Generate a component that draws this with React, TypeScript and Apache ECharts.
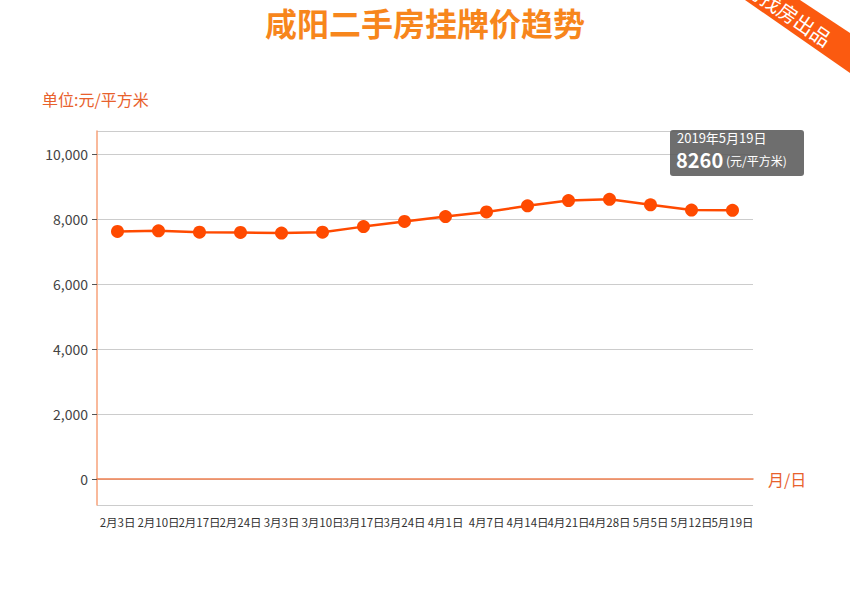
import React, { useEffect, useRef } from "react";
import * as echarts from "echarts";

const dates = [
  "2月3日", "2月10日", "2月17日", "2月24日", "3月3日", "3月10日", "3月17日", "3月24日",
  "4月1日", "4月7日", "4月14日", "4月21日", "4月28日", "5月5日", "5月12日", "5月19日",
];
const prices = [7610, 7630, 7590, 7580, 7560, 7590, 7760, 7920, 8070, 8210, 8400, 8560, 8600, 8430, 8270, 8260];
const tipDate = "2019年5月19日";
const tipValue = "8260";
const unitText = "单位:元/平方米";
const titleText = "咸阳二手房挂牌价趋势";

const FONT = '"Noto Sans CJK SC", "Noto Sans", sans-serif';

export default function App() {
  const ref = useRef<HTMLDivElement>(null);
  useEffect(() => {
    if (!ref.current) return;
    const chart = echarts.init(ref.current, undefined, { renderer: "svg" });
    chart.setOption({
      animation: false,
      textStyle: { fontFamily: FONT },
      title: {
        text: titleText,
        left: "center",
        top: 1,
        textStyle: { color: "#f7861c", fontSize: 32, fontWeight: "bold", fontFamily: FONT },
      },
      grid: { left: 97, right: 97, top: 131, bottom: 105, containLabel: false },
      xAxis: {
        type: "category",
        data: dates,
        boundaryGap: true,
        axisLine: { onZero: true, lineStyle: { color: "#f08050", width: 1.5 } },
        axisTick: { show: false },
        axisLabel: { interval: 0, margin: 11, color: "#333", fontSize: 11.5, fontFamily: FONT },
        name: "月/日",
        nameLocation: "end",
        nameGap: 15,
        nameTextStyle: { color: "#e8612c", fontSize: 16, fontFamily: FONT },
        splitLine: { show: false },
      },
      yAxis: {
        type: "value",
        min: -800,
        max: 10700,
        splitNumber: 5,
        axisLine: { show: true, lineStyle: { color: "#f7a27a", width: 1.5 } },
        axisTick: { show: true, length: 5, lineStyle: { color: "#555" } },
        axisLabel: {
          color: "#444",
          fontSize: 14,
          margin: 9,
          showMinLabel: false,
          showMaxLabel: false,
          formatter: (v: number) => v.toLocaleString("en-US"),
        },
        splitLine: { show: true, lineStyle: { color: "#cccccc", width: 1 } },
      },
      series: [
        {
          type: "line",
          data: prices,
          symbol: "circle",
          symbolSize: 13,
          lineStyle: { color: "#ff4a00", width: 2.5 },
          itemStyle: { color: "#ff4a00" },
          z: 5,
        },
      ],
      graphic: [
        {
          type: "text",
          left: 42,
          top: 91,
          z: 10,
          style: { text: unitText, fill: "#e8612c", font: `16px ${FONT}` },
        },
        {
          type: "polygon",
          z: 20,
          shape: { points: [[745, 0], [800, 0], [850, 33], [850, 73]] },
          style: { fill: "#fb5a10" },
        },
        {
          type: "text",
          x: 780,
          y: 7,
          rotation: -0.6,
          z: 21,
          style: {
            text: "诸葛找房出品",
            fill: "#ffffff",
            font: `20px ${FONT}`,
            align: "center",
            verticalAlign: "middle",
          },
        },
        {
          type: "rect",
          z: 30,
          shape: { x: 670, y: 130, width: 134, height: 46, r: 3 },
          style: { fill: "rgba(90,90,90,0.88)" },
        },
        {
          type: "text",
          x: 677,
          y: 131,
          z: 31,
          style: { text: tipDate, fill: "#fff", font: `13px ${FONT}` },
        },
        {
          type: "text",
          x: 676,
          y: 149,
          z: 31,
          style: { text: tipValue, fill: "#fff", font: `bold 20px ${FONT}` },
        },
        {
          type: "text",
          x: 726,
          y: 154,
          z: 31,
          style: { text: "(元/平方米)", fill: "#fff", font: `12px ${FONT}` },
        },
      ],
    });
    return () => chart.dispose();
  }, []);
  return (
    <div
      ref={ref}
      style={{ position: "fixed", left: 0, top: 0, width: 850, height: 610, background: "#fff" }}
    />
  );
}
